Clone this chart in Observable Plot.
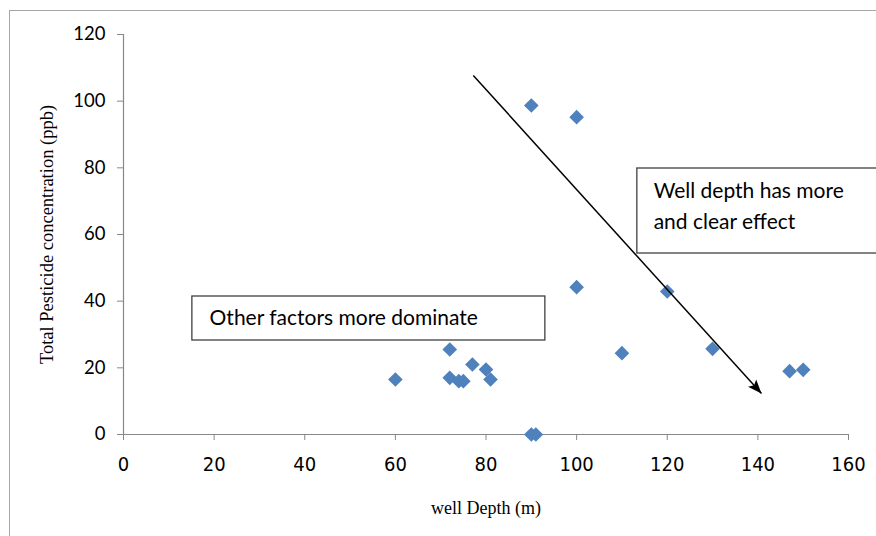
<!DOCTYPE html>
<html>
<head>
<meta charset="utf-8">
<script src="https://cdn.jsdelivr.net/npm/d3@7"></script>
<script src="https://cdn.jsdelivr.net/npm/@observablehq/plot@0.6"></script>
<style>
  html, body { margin: 0; padding: 0; background: #fff; }
  #wrap { position: relative; width: 876px; height: 536px; overflow: hidden; }
  #wrap svg { position: absolute; left: 0; top: 0; }
  #frame { position: absolute; left: 9px; top: 10px; width: 900px; height: 600px;
           border-left: 1.5px solid #a6a6a6; border-top: 1.5px solid #a6a6a6; pointer-events: none; }
</style>
</head>
<body>
<div id="wrap"><div id="frame"></div></div>
<script>
// Data
const depth = [60, 72, 72, 74, 75, 77, 80, 81, 90, 91, 90, 100, 100, 110, 120, 130, 147, 150];
const conc  = [16.5, 25.5, 17, 16, 16, 21, 19.5, 16.5, 0, 0, 98.7, 95.2, 44.2, 24.4, 42.9, 25.7, 19, 19.4];
const xTicks = [0, 20, 40, 60, 80, 100, 120, 140, 160];
const yTicks = [0, 20, 40, 60, 80, 100, 120];
const xLabel = "well Depth (m)";
const yLabel = "Total Pesticide concentration (ppb)";

// Annotations (data coordinates)
const boxes = [
  {x1: 15.2, x2: 93.1, y1: 28.2, y2: 41.4},
  {x1: 113.4, x2: 168, y1: 54.3, y2: 79.8}
];
const notes = [
  {x: 19, y: 34.6, text: "Other factors more dominate"},
  {x: 117, y: 68.1, text: "Well depth has more\nand clear effect"}
];
const trend = [{x1: 77.2, y1: 107.7, x2: 140.8, y2: 12.3}];

const points = depth.map((d, i) => ({depth: d, conc: conc[i]}));

const sans = "Lato, 'Open Sans', sans-serif";
const narrow = "'Liberation Sans Narrow', 'DejaVu Sans Condensed', sans-serif";
const serif = "'Liberation Serif', 'DejaVu Serif', serif";

const chart = Plot.plot({
  width: 876,
  height: 536,
  marginLeft: 123,
  marginRight: 28,
  marginTop: 34,
  marginBottom: 102,
  style: {background: "transparent", overflow: "visible"},
  x: {domain: [0, 160], label: null},
  y: {domain: [0, 120], label: null},
  marks: [
    Plot.ruleY([0], {stroke: "#888", strokeWidth: 1.2}),
    Plot.ruleX([0], {stroke: "#888", strokeWidth: 1.2}),
    Plot.axisX({ticks: xTicks, tickSize: 6, tickPadding: 16, stroke: "#888", fill: "#000",
                fontSize: 20, fontFamily: narrow, label: null, tickFormat: d => String(d)}),
    Plot.axisY({ticks: yTicks, tickSize: 6, tickPadding: 12, stroke: "#888", fill: "#000",
                fontSize: 18.5, fontFamily: sans, label: null, tickFormat: d => String(d)}),
    Plot.text([xLabel], {frameAnchor: "bottom", dy: 74, lineAnchor: "middle", textAnchor: "middle",
                         text: d => d, fontSize: 18, fontFamily: serif, fill: "#000"}),
    Plot.text([yLabel], {frameAnchor: "left", dx: -76, rotate: -90, textAnchor: "middle", lineAnchor: "middle",
                         text: d => d, fontSize: 18.5, fontFamily: serif, fill: "#000"}),
    Plot.dot(points, {x: "depth", y: "conc", symbol: "diamond2", r: 6.6, fill: "#4F81BD", stroke: "none"}),
    Plot.rect(boxes, {x1: "x1", x2: "x2", y1: "y1", y2: "y2", fill: "#fff", stroke: "#404040", strokeWidth: 1.3}),
    Plot.text(notes, {x: "x", y: "y", text: "text", textAnchor: "start", fontSize: 21,
                      lineHeight: 1.48, fontFamily: sans, fill: "#000", dy: -4}),
    Plot.link(trend, {x1: "x1", y1: "y1", x2: "x2", y2: "y2", stroke: "#000", strokeWidth: 1.5, className: "trend"})
  ]
});

document.getElementById("wrap").prepend(chart);

// filled arrowhead on the trend line
const svg = d3.select(chart);
const defs = svg.append("defs");
defs.append("marker")
  .attr("id", "arrowhead")
  .attr("markerUnits", "userSpaceOnUse")
  .attr("viewBox", "-14 -6 14 12")
  .attr("markerWidth", 14)
  .attr("markerHeight", 12)
  .attr("refX", 0).attr("refY", 0)
  .attr("orient", "auto")
  .append("path")
  .attr("d", "M-14,-5.5L0,0L-14,5.5L-11,0Z")
  .attr("fill", "#000");
svg.selectAll(".trend path, .trend line").attr("marker-end", "url(#arrowhead)");
</script>
</body>
</html>
